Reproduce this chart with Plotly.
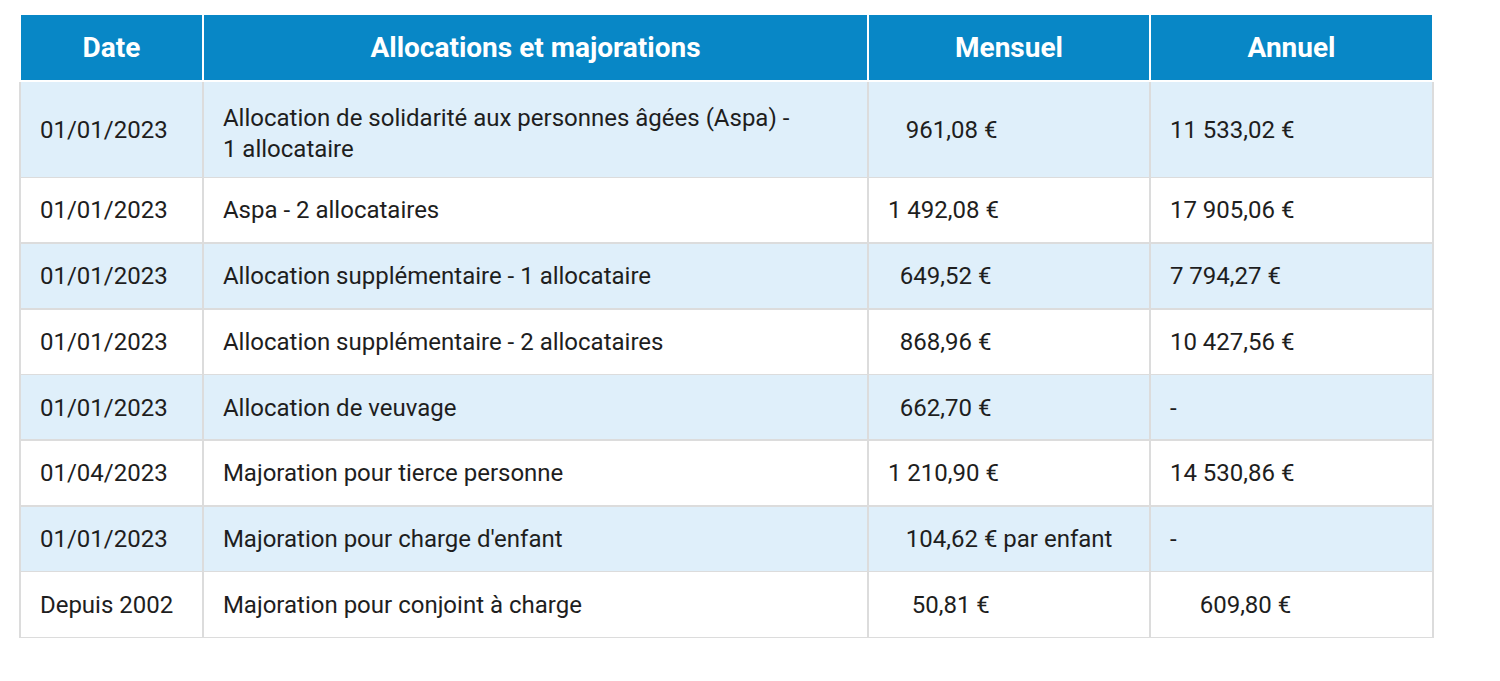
import plotly.graph_objects as go

# table contents
dates = ['01/01/2023', '01/01/2023', '01/01/2023', '01/01/2023',
         '01/01/2023', '01/04/2023', '01/01/2023', 'Depuis 2002']
allocations = [
    'Allocation de solidarité aux personnes âgées (Aspa) -<br>1 allocataire',
    'Aspa - 2 allocataires',
    'Allocation supplémentaire - 1 allocataire',
    'Allocation supplémentaire - 2 allocataires',
    'Allocation de veuvage',
    'Majoration pour tierce personne',
    "Majoration pour charge d'enfant",
    'Majoration pour conjoint à charge',
]
mensuel = ['961,08 €', '1 492,08 €', '649,52 €', '868,96 €',
           '662,70 €', '1 210,90 €', '104,62 € par enfant', '50,81 €']
annuel = ['11 533,02 €', '17 905,06 €', '7 794,27 €', '10 427,56 €',
          '-', '14 530,86 €', '-', '609,80 €']
headers = ['Date', 'Allocations et majorations', 'Mensuel', 'Annuel']

# the source page indents some amounts a little (spaces), mimic that
nb = '\u00a0'
base_pad = 2
mensuel_indent = [3, 0, 2, 2, 2, 0, 3, 4]
annuel_indent = [0, 0, 0, 0, 0, 0, 0, 5]
# first row is a bit taller on the page -> tiny extra line
tall_tail = '<br><span style="font-size:3px;baseline-shift:5px">' + nb + '</span>'


def pad(col, extra=None):
    extra = extra or [0] * len(col)
    lead = [nb * (base_pad + n) for n in extra]
    return [p + v.replace('<br>', '<br>' + p) for p, v in zip(lead, col)]


alloc_txt = pad(allocations)
alloc_txt[0] += tall_tail
date_txt = pad(dates)
mens_txt = pad(mensuel, mensuel_indent)
ann_txt = pad(annuel, annuel_indent)

# single-line texts of the tall first row sit centred -> own layer, lower
first_row = [date_txt[0], '', mens_txt[0], ann_txt[0]]
cell_values = [[''] + date_txt[1:], alloc_txt, [''] + mens_txt[1:],
               [''] + ann_txt[1:]]

# blank copy for the background table, same number of lines per row
blank = [''] * len(dates)
blank[0] = nb + '<br>' + nb + tall_tail
bg_values = [blank] + [[''] * len(dates)] * 3

blue = '#0887c6'
light = '#dfeffa'
row_fill = [light if i % 2 == 0 else 'white' for i in range(len(dates))]
widths = [183, 665, 282, 283]

W, H = 1500, 681
off = 8            # page body margin
top = 14 - off
x_dom = [(20 - off) / W, (1433 - off) / W]
head_h, row_h = 67, 65.7
head_dy, body_dy = 9, 15   # push text down so it sits centred in the cells
first_dy = 16
clear = 'rgba(0,0,0,0)'
body_font = dict(family='Roboto', size=24, color='#1e1e1e')

# background table: fills and borders only
bg = go.Table(
    domain=dict(x=x_dom, y=[0, 1 - top / H]),
    columnwidth=widths,
    header=dict(
        values=[''] * 4,
        fill_color=blue,
        line_color='white',
        line_width=2,
        height=head_h,
        font=dict(family='Roboto', size=28, color='white'),
    ),
    cells=dict(
        values=bg_values,
        fill_color=[row_fill] * 4,
        line_color='#dcdcdc',
        line_width=1.5,
        align='left',
        font=dict(family='Roboto', size=24, color=clear),
        height=row_h,
    ),
    hoverinfo='skip',
)

# text table laid over it
txt = go.Table(
    domain=dict(x=x_dom, y=[0, 1 - (top + head_dy) / H]),
    columnwidth=widths,
    header=dict(
        values=['<b>%s</b>' % h for h in headers],
        fill_color=clear,
        line_color=clear,
        align='center',
        font=dict(family='Roboto', size=28, color='white'),
        height=head_h + body_dy - head_dy,
    ),
    cells=dict(
        values=cell_values,
        fill_color=clear,
        line_color=clear,
        align='left',
        font=body_font,
        height=row_h,
    ),
)

# first-row single line texts
txt1 = go.Table(
    domain=dict(x=x_dom, y=[0, 1 - (top + head_dy) / H]),
    columnwidth=widths,
    header=dict(
        values=[''] * 4,
        fill_color=clear,
        line_color=clear,
        height=head_h + body_dy - head_dy + first_dy,
    ),
    cells=dict(
        values=[[v] for v in first_row],
        fill_color=clear,
        line_color=clear,
        align='left',
        font=body_font,
        height=row_h,
    ),
)

fig = go.Figure([bg, txt, txt1])

fig.update_layout(
    width=W,
    height=H,
    margin=dict(l=0, r=0, t=0, b=0),
    paper_bgcolor='white',
)

fig.write_html("out.html")
